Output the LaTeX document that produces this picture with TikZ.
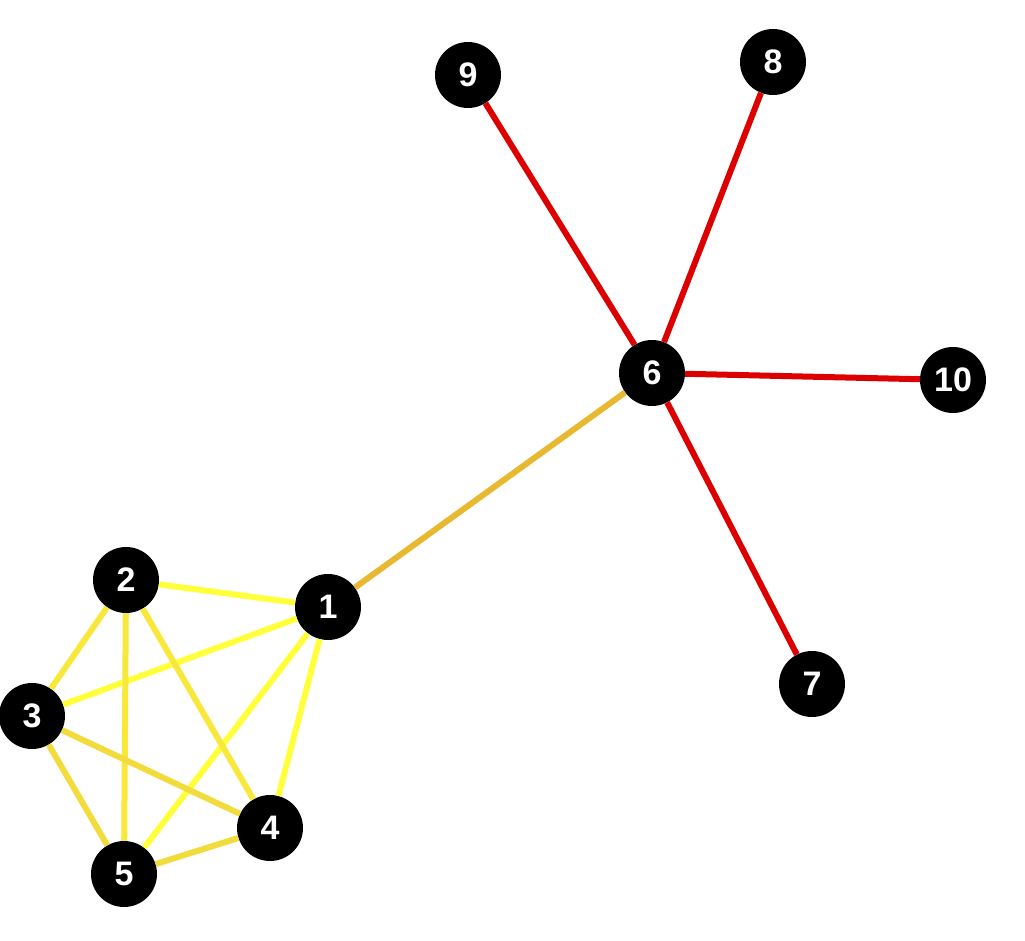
\documentclass[tikz,border=0pt]{standalone}
\usepackage{fontspec}
\setmainfont{Liberation Sans}
\definecolor{ya}{HTML}{FFFF3A}
\definecolor{yb}{HTML}{F8E83C}
\definecolor{yc}{HTML}{F2DC3C}
\definecolor{org}{HTML}{E8B830}
\definecolor{rd}{HTML}{DD0000}
\begin{document}
\begin{tikzpicture}[x=1pt,y=-1pt,
  vtx/.style={circle,fill=black,minimum size=66pt,inner sep=0pt,text=white,font=\fontsize{34}{34}\selectfont\bfseries},
  ed/.style={line width=6pt}]
\useasboundingbox (0,0) rectangle (1025,941);
\node[vtx] (n1) at (328,607) {1};
\node[vtx] (n2) at (126,580) {2};
\node[vtx] (n3) at (32,716) {3};
\node[vtx] (n4) at (270,828) {4};
\node[vtx] (n5) at (124,874) {5};
\node[vtx] (n6) at (652,373) {6};
\node[vtx] (n7) at (812,684) {7};
\node[vtx] (n8) at (773,62) {8};
\node[vtx] (n9) at (468,75) {9};
\node[vtx] (n10) at (953,380) {10};
\draw[ed,ya] (n1) -- (n2);
\draw[ed,ya] (n1) -- (n3);
\draw[ed,ya] (n1) -- (n4);
\draw[ed,ya] (n1) -- (n5);
\draw[ed,yb] (n2) -- (n3);
\draw[ed,yb] (n2) -- (n4);
\draw[ed,yb] (n2) -- (n5);
\draw[ed,yc] (n3) -- (n4);
\draw[ed,yc] (n3) -- (n5);
\draw[ed,yc] (n4) -- (n5);
\draw[ed,org] (n1) -- (n6);
\draw[ed,rd] (n6) -- (n7);
\draw[ed,rd] (n6) -- (n8);
\draw[ed,rd] (n6) -- (n9);
\draw[ed,rd] (n6) -- (n10);
\end{tikzpicture}
\end{document}
